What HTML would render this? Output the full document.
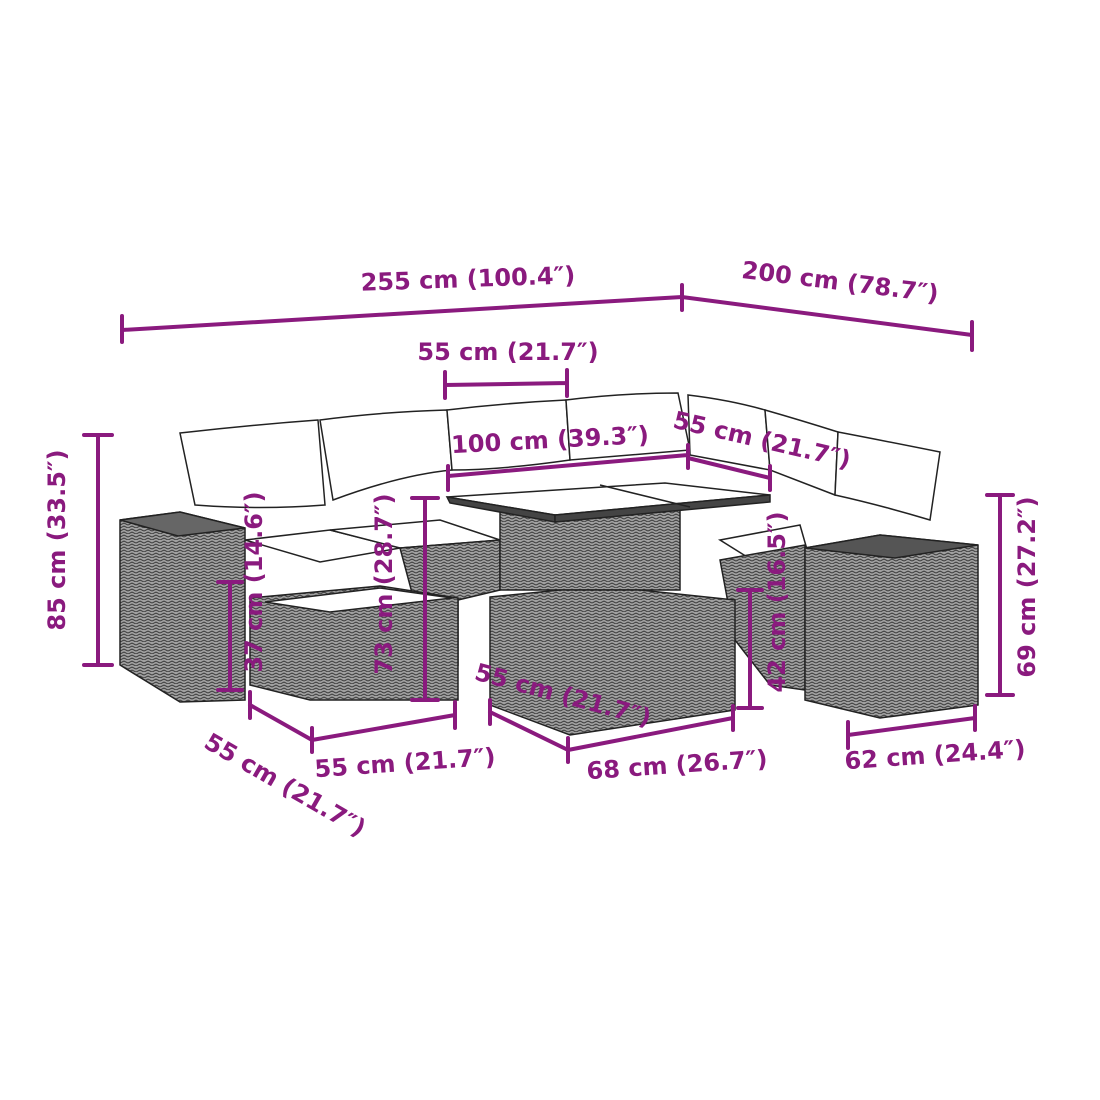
<!DOCTYPE html>
<html><head><style>
html,body{margin:0;padding:0;background:#fff;}
svg{display:block;}
text{font-family:"DejaVu Sans","Liberation Sans",sans-serif;font-weight:bold;font-size:24px;fill:#8a1a7e;}
</style></head><body>
<svg width="1100" height="1100" viewBox="0 0 1100 1100" xmlns="http://www.w3.org/2000/svg">
<defs>
<pattern id="w" width="8" height="6" patternUnits="userSpaceOnUse">
<rect width="8" height="6" fill="#a0a0a0"/>
<path d="M0 3 L4 1 L8 3 M0 6 L4 4 L8 6" stroke="#3a3a3a" stroke-width="1" fill="none"/>
</pattern>
</defs>
<g stroke="#222" stroke-width="1.5">
<path d="M180 433 Q250 425 318 420 L325 505 Q260 510 195 505 Z" fill="#fff"/>
<path d="M320 420 Q380 412 447 410 L452 470 Q400 475 333 500 Z" fill="#fff"/>
<path d="M447 410 Q505 403 566 400 L570 460 Q500 470 452 470 Z" fill="#fff"/>
<path d="M566 400 Q620 393 678 393 L690 450 Q630 455 570 460 Z" fill="#fff"/>
<path d="M688 395 Q730 400 765 410 L770 470 L690 455 Z" fill="#fff"/>
<path d="M765 410 Q800 420 838 432 L835 495 L770 470 Z" fill="#fff"/>
<path d="M838 432 Q880 440 940 452 L930 520 Q880 505 835 495 Z" fill="#fff"/>
<path d="M245 540 L330 530 L400 548 L320 562 Z" fill="#fff"/>
<path d="M330 530 L440 520 L500 540 L400 548 Z" fill="#fff"/>
<path d="M720 540 L800 525 L810 560 L760 565 Z" fill="#fff"/>
<path d="M400 548 L500 540 L500 590 L458 600 L458 665 L430 660 Z" fill="url(#w)"/>
<path d="M720 560 L805 545 L805 690 L770 685 L735 640 Z" fill="url(#w)"/>
<path d="M120 520 L180 512 L245 528 L245 700 L180 702 L120 665 Z" fill="url(#w)"/>
<path d="M120 520 L180 512 L245 528 L178 536 Z" fill="#666"/>
<path d="M250 598 L380 586 L458 598 L458 700 L310 700 L250 685 Z" fill="url(#w)"/>
<path d="M265 602 L380 588 L452 598 L330 612 Z" fill="#fff"/>
<path d="M500 510 L680 510 L680 590 L500 590 Z" fill="url(#w)"/>
<path d="M447 497 L665 483 L770 495 L555 515 Z" fill="#fff"/>
<path d="M447 497 L555 515 L555 522 L450 503 Z" fill="#444"/>
<path d="M555 515 L770 495 L770 502 L555 522 Z" fill="#444"/>
<line x1="600" y1="485" x2="690" y2="507" />
<path d="M490 597 L560 590 L640 590 L735 600 L735 710 L570 735 L490 705 Z" fill="url(#w)"/>
<path d="M805 548 L880 535 L978 545 L978 705 L880 718 L805 700 Z" fill="url(#w)"/>
<path d="M805 548 L880 535 L978 545 L895 558 Z" fill="#555"/>
</g>
<g stroke="#8a1a7e" stroke-width="4" fill="none" stroke-linecap="round">
<path d="M122 330 L682 297 L972 335"/>
<path d="M122 316 V342 M682 285 V310 M972 322 V350"/>
<path d="M445 385 L567 383 M445 372 V398 M567 370 V396"/>
<path d="M448 476 L688 455 M448 466 V490 M688 445 V468"/>
<path d="M688 458 L770 478 M770 466 V490"/>
<path d="M98 435 V665 M84 435 H112 M84 665 H112"/>
<path d="M1000 495 V695 M987 495 H1013 M987 695 H1013"/>
<path d="M230 582 V690 M218 582 H242 M218 690 H242"/>
<path d="M425 498 V700 M412 498 H438 M412 700 H438"/>
<path d="M750 590 V708 M738 590 H762 M738 708 H762"/>
<path d="M250 705 L312 740 M250 692 V718 M312 728 V752"/>
<path d="M312 740 L455 715 M455 702 V728"/>
<path d="M490 712 L568 750 M490 700 V724 M568 738 V762"/>
<path d="M568 750 L733 718 M733 706 V730"/>
<path d="M848 735 L975 718 M848 722 V748 M975 706 V730"/>
</g>
<text x="468" y="287" text-anchor="middle" transform="rotate(-2 468 280)">255 cm (100.4″)</text>
<text x="840" y="290" text-anchor="middle" transform="rotate(7 840 283)">200 cm (78.7″)</text>
<text x="508" y="360" text-anchor="middle">55 cm (21.7″)</text>
<text x="550" y="448" text-anchor="middle" transform="rotate(-3 550 440)">100 cm (39.3″)</text>
<text x="762" y="448" text-anchor="middle" transform="rotate(13 762 440)">55 cm (21.7″)</text>
<text x="73" y="548" text-anchor="middle" transform="rotate(-90 65 548)">85 cm (33.5″)</text>
<text x="1043" y="595" text-anchor="middle" transform="rotate(-90 1035 595)">69 cm (27.2″)</text>
<text x="270" y="590" text-anchor="middle" transform="rotate(-90 262 590)">37 cm (14.6″)</text>
<text x="400" y="592" text-anchor="middle" transform="rotate(-90 392 592)">73 cm (28.7″)</text>
<text x="793" y="610" text-anchor="middle" transform="rotate(-90 785 610)">42 cm (16.5″)</text>
<text x="285" y="793" text-anchor="middle" transform="rotate(30 285 785)">55 cm (21.7″)</text>
<text x="405" y="771" text-anchor="middle" transform="rotate(-4 405 763)">55 cm (21.7″)</text>
<text x="563" y="703" text-anchor="middle" transform="rotate(15 563 695)">55 cm (21.7″)</text>
<text x="677" y="773" text-anchor="middle" transform="rotate(-4 677 765)">68 cm (26.7″)</text>
<text x="935" y="763" text-anchor="middle" transform="rotate(-4 935 755)">62 cm (24.4″)</text>
</svg>
</body></html>
